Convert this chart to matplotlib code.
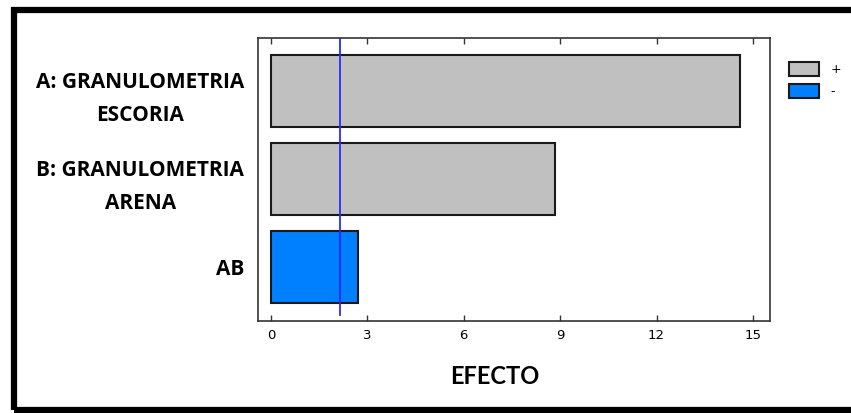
import matplotlib
import matplotlib.pyplot as plt
from matplotlib.patches import Patch, Rectangle

matplotlib.use('agg')

# data
factors = ['A: GRANULOMETRIA\nESCORIA', 'B: GRANULOMETRIA\nARENA', 'AB']
effects = [14.6, 8.85, 2.7]
signs = ['+', '+', '-']
critical_value = 2.15
xticks = [0, 3, 6, 9, 12, 15]

sign_colors = {'+': '#c0c0c0', '-': '#0080ff'}

fig = plt.figure(figsize=(8.51, 4.13), dpi=100)
ax = fig.add_axes([258 / 851, 1 - 321 / 413, 512 / 851, 283 / 413])

pos = list(range(len(factors)))
ax.barh(pos, effects, height=0.82, color=[sign_colors[s] for s in signs],
        edgecolor='#1a1a1a', linewidth=1.5)
ax.axvline(critical_value, ymin=0.02, ymax=1, color='#2a2aff', linewidth=1.3)

ax.set_xlim(-0.4, 15.53)
ax.set_ylim(2.614, -0.602)

ax.set_xticks(xticks)
ax.set_xticklabels([str(t) for t in xticks], family='Liberation Sans Narrow', fontsize=9.5)
ax.tick_params(axis='x', direction='in', length=4, width=1, top=True, pad=6, color='#333333')
ax.set_yticks(pos)
ax.set_yticklabels(factors, family='Open Sans', fontweight='bold', fontsize=15,
                   ha='right', multialignment='center', linespacing=1.7)
ax.tick_params(axis='y', length=0, pad=10)
for s in ax.spines.values():
    s.set_color('#333333')
    s.set_linewidth(1.2)

ax.set_xlabel('EFECTO', family='Lato', fontweight='bold', fontsize=17)
ax.xaxis.set_label_coords((495 - 258) / 512, -(377 - 321) / 283)
ax.xaxis.label.set_va('center')

handles = [Patch(facecolor=sign_colors['+'], edgecolor='#1a1a1a', linewidth=1.5, label='+'),
           Patch(facecolor=sign_colors['-'], edgecolor='#1a1a1a', linewidth=1.5, label='-')]
fig.legend(handles=handles, loc='upper left', bbox_to_anchor=(789 / 851, 1 - 62 / 413),
           frameon=False, fontsize=9, handlelength=2.4, handleheight=1.3,
           labelspacing=0.65, borderpad=0, borderaxespad=0, handletextpad=0.9)

# thick outer frame
fig.patches.append(Rectangle((14 / 851, 3 / 413), 1.2, 1 - 13 / 413, transform=fig.transFigure,
                             fill=False, edgecolor='black', linewidth=4.5))

fig.savefig('out.png', dpi=100)
